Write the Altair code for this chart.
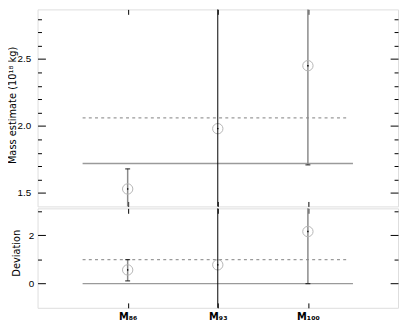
import altair as alt
import pandas as pd

# ---- data ----
categories = ["M86", "M93", "M100"]
x_pos = [86, 93, 100]
x_labels = ["M₈₆", "M₉₃", "M₁₀₀"]

mass = [1.53, 1.98, 2.45]
mass_lo = [1.38, None, 1.71]
mass_hi = [1.68, None, 3.05]

dev = [0.57, 0.78, 2.16]
dev_lo = [0.12, None, 0.0]
dev_hi = [1.0, None, 3.4]

mass_ref = [1.72, 2.06]          # solid, dashed
dev_ref = [0.0, 1.0]             # solid, dashed
ref_x_start = [82.5, 82.5]
ref_x_end = [103.5, 103.2]
divider_x = [93]

x_domain = [79, 107]
mass_domain = [1.4, 2.87]
dev_domain = [-1.0, 3.12]
mass_major = [1.5, 2.0, 2.5]
mass_minor = [1.6, 1.7, 1.8, 1.9, 2.1, 2.2, 2.3, 2.4, 2.6, 2.7, 2.8]
dev_major = [0, 2]
dev_minor = [1, 3]

label_expr = " : ".join(
    f"datum.value == {x} ? '{l}'" for x, l in zip(x_pos[:-1], x_labels[:-1])
) + f" : '{x_labels[-1]}'"


def panel(values, lo, hi, refs, ydomain, major, minor, title, fmt,
          title_x, title_y, label_pad, height, show_x_labels):
    pts = pd.DataFrame({"x": x_pos, "v": values, "lo": lo, "hi": hi, "cat": categories})
    bars = pts.dropna(subset=["lo"])
    caps = pd.DataFrame({"x": list(bars["x"]) * 2,
                         "y": list(bars["lo"]) + list(bars["hi"])})
    solid = pd.DataFrame({"x": [ref_x_start[0]], "x2": [ref_x_end[0]], "y": [refs[0]]})
    dashed = pd.DataFrame({"x": [ref_x_start[1]], "x2": [ref_x_end[1]], "y": [refs[1]]})
    vline = pd.DataFrame({"x": divider_x})

    xs = alt.Scale(domain=x_domain, nice=False, zero=False)
    ys = alt.Scale(domain=ydomain, nice=False, zero=False)

    common = dict(domain=False, grid=False, tickColor="black", tickWidth=1)
    x_bottom = alt.Axis(orient="bottom", values=x_pos, offset=-5, tickSize=5,
                        labels=show_x_labels, labelExpr=label_expr,
                        labelFont="DejaVu Sans", labelFontSize=10,
                        labelFontWeight="bold", labelColor="black",
                        labelPadding=4, title=None, **common)
    x_top = alt.Axis(orient="top", values=x_pos, offset=-5, tickSize=5,
                     labels=False, title=None, **common)
    y_left_major = alt.Axis(orient="left", values=major, offset=-8, tickSize=8,
                            format=fmt, labelFont="Liberation Sans", labelFontSize=10,
                            labelColor="black", labelPadding=label_pad,
                            title=title, titleFont="DejaVu Sans", titleFontSize=10,
                            titleFontWeight="normal", titleColor="black",
                            titleX=title_x, titleY=title_y, titleBaseline="middle",
                            **common)
    y_left_minor = alt.Axis(orient="left", values=minor, offset=-4, tickSize=4,
                            labels=False, title=None, **common)
    y_right_major = alt.Axis(orient="right", values=major, offset=-8, tickSize=8,
                             labels=False, title=None, **common)
    y_right_minor = alt.Axis(orient="right", values=minor, offset=-4, tickSize=4,
                             labels=False, title=None, **common)

    l_solid = alt.Chart(solid).mark_rule(color="#9a9a9a", strokeWidth=1.3).encode(
        x=alt.X("x:Q", scale=xs, axis=x_bottom),
        x2="x2:Q",
        y=alt.Y("y:Q", scale=ys, axis=y_left_major),
    )
    l_dashed = alt.Chart(dashed).mark_rule(color="#9a9a9a", strokeWidth=1.2,
                                           strokeDash=[3, 3.3]).encode(
        x=alt.X("x:Q", scale=xs, axis=x_top),
        x2="x2:Q",
        y=alt.Y("y:Q", scale=ys, axis=y_left_minor),
    )
    l_bars = alt.Chart(bars).mark_rule(color="#8a8a8a", strokeWidth=1.5, clip=True).encode(
        x=alt.X("x:Q", scale=xs, axis=None),
        y=alt.Y("lo:Q", scale=ys, axis=y_right_major),
        y2="hi:Q",
    )
    l_circ = alt.Chart(pts).mark_point(shape="circle", size=110, filled=False,
                                       color="#b5b5b5", strokeWidth=1, opacity=1).encode(
        x=alt.X("x:Q", scale=xs, axis=None),
        y=alt.Y("v:Q", scale=ys, axis=y_right_minor),
    )
    l_caps = alt.Chart(caps).mark_tick(orient="horizontal", size=5, thickness=1.2,
                                       color="black", clip=True).encode(
        x=alt.X("x:Q", scale=xs, axis=None),
        y=alt.Y("y:Q", scale=ys, axis=None),
    )
    l_dots = alt.Chart(pts).mark_square(size=2, color="black", opacity=1).encode(
        x=alt.X("x:Q", scale=xs, axis=None),
        y=alt.Y("v:Q", scale=ys, axis=None),
    )
    l_vline = alt.Chart(vline).mark_rule(color="black", strokeWidth=1).encode(
        x=alt.X("x:Q", scale=xs, axis=None),
    )
    return alt.layer(l_solid, l_dashed, l_bars, l_circ, l_caps, l_dots, l_vline).resolve_axis(
        x="independent", y="independent"
    ).properties(width=366, height=height)


top = panel(mass, mass_lo, mass_hi, mass_ref, mass_domain, mass_major, mass_minor,
            "Mass estimate (10¹⁸ kg)", ".1f", -33, 97, 7, 200, False)
bottom = panel(dev, dev_lo, dev_hi, dev_ref, dev_domain, dev_major, dev_minor,
               "Deviation", "d", -29, 45, 4, 101, True)

chart = alt.vconcat(top, bottom, spacing=0).properties(
    padding={"left": -1, "top": -2, "right": 0, "bottom": 0}
).configure_view(stroke="black", strokeWidth=1).configure(background="white")

chart.save("out.html", embed_options={"renderer": "svg", "actions": False})
